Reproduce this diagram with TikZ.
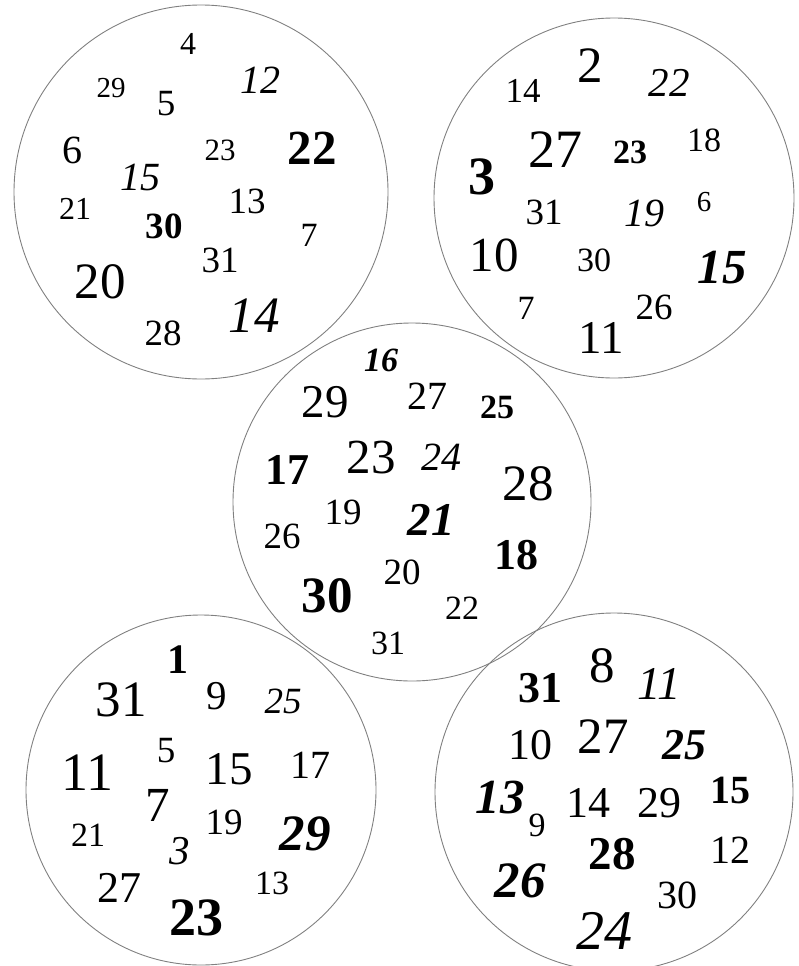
\documentclass[tikz,border=0pt]{standalone}
\usepackage{fontspec}
\setmainfont{Liberation Serif}
\usetikzlibrary{shapes.geometric}

\begin{document}
\begin{tikzpicture}[
  x=1pt,y=-1pt,
  ring/.style={draw=black!50,line width=0.9pt,circle,inner sep=0pt},
  num/.style={inner sep=0pt,font=\fontsize{#1}{#1}\selectfont},
  bnum/.style={inner sep=0pt,font=\fontsize{#1}{#1}\selectfont\bfseries},
  inum/.style={inner sep=0pt,font=\fontsize{#1}{#1}\selectfont\itshape},
  binum/.style={inner sep=0pt,font=\fontsize{#1}{#1}\selectfont\bfseries\itshape}
]
\useasboundingbox (0,0) rectangle (798,966);

% the five circles
\node[ring,minimum size=374pt] (c1) at (201,192) {};
\node[ring,minimum size=360pt] (c2) at (614,198) {};
\node[ring,minimum size=358pt] (c3) at (412,502) {};
\node[ring,minimum size=350pt] (c4) at (201,790) {};
\node[ring,minimum size=358pt] (c5) at (614,792) {};

% top left
\node[num=32]   (a4)  at (188,44)  {4};
\node[num=29]   (a29) at (111,88)  {29};
\node[num=37]   (a5)  at (166,104) {5};
\node[inum=40]  (a12) at (260,80)  {12};
\node[num=40]   (a6)  at (72,150)  {6};
\node[num=31]   (a23) at (220,150) {23};
\node[bnum=49]  (a22) at (312,148) {22};
\node[inum=40]  (a15) at (140,177) {15};
\node[num=32]   (a21) at (75,209)  {21};
\node[num=37]   (a13) at (247,201) {13};
\node[bnum=37]  (a30) at (164,226) {30};
\node[num=34]   (a7)  at (309,235) {7};
\node[num=37]   (a31) at (220,260) {31};
\node[num=51]   (a20) at (100,282) {20};
\node[num=37]   (a28) at (163,333) {28};
\node[inum=51]  (a14) at (254,316) {14};

% top right
\node[num=35]   (b14) at (523,91)  {14};
\node[num=51]   (b2)  at (590,66)  {2};
\node[inum=41]  (b22) at (669,83)  {22};
\node[num=54]   (b27) at (555,150) {27};
\node[bnum=34]  (b23) at (630,152) {23};
\node[num=34]   (b18) at (704,140) {18};
\node[bnum=54]  (b3)  at (482,177) {3};
\node[num=37]   (b31) at (544,212) {31};
\node[inum=40]  (b19) at (644,213) {19};
\node[num=29]   (b6)  at (704,202) {6};
\node[num=49]   (b10) at (494,255) {10};
\node[num=34]   (b30) at (594,260) {30};
\node[binum=49] (b15) at (722,268) {15};
\node[num=34]   (b7)  at (526,308) {7};
\node[num=37]   (b26) at (654,307) {26};
\node[num=47]   (b11) at (601,338) {11};

% middle
\node[binum=34] (m16) at (381,360) {16};
\node[num=47]   (m29) at (325,402) {29};
\node[num=40]   (m27) at (427,396) {27};
\node[bnum=34]  (m25) at (497,407) {25};
\node[bnum=44]  (m17) at (287,470) {17};
\node[num=49]   (m23) at (371,458) {23};
\node[inum=40]  (m24) at (441,457) {24};
\node[num=51]   (m28) at (528,484) {28};
\node[num=37]   (m19) at (343,512) {19};
\node[num=37]   (m26) at (282,536) {26};
\node[binum=47] (m21) at (431,520) {21};
\node[bnum=44]  (m18) at (516,555) {18};
\node[num=37]   (m20) at (402,572) {20};
\node[bnum=51]  (m30) at (327,596) {30};
\node[num=34]   (m22) at (462,608) {22};
\node[num=34]   (m31) at (388,643) {31};

% bottom left
\node[bnum=42]  (d1)  at (178,660) {1};
\node[num=51]   (d31) at (121,700) {31};
\node[num=41]   (d9)  at (217,696) {9};
\node[inum=37]  (d25) at (283,701) {25};
\node[num=37]   (d5)  at (166,751) {5};
\node[num=54]   (d11) at (87,773)  {11};
\node[num=47]   (d15) at (229,769) {15};
\node[num=40]   (d17) at (310,765) {17};
\node[num=49]   (d7)  at (158,805) {7};
\node[num=37]   (d19) at (224,822) {19};
\node[binum=51] (d29) at (305,834) {29};
\node[num=34]   (d21) at (88,835)  {21};
\node[inum=41]  (d3)  at (180,851) {3};
\node[num=44]   (d27) at (119,888) {27};
\node[num=34]   (d13) at (272,883) {13};
\node[bnum=54]  (d23) at (196,918) {23};

% bottom right
\node[bnum=44]  (e31) at (540,688) {31};
\node[num=51]   (e8)  at (602,666) {8};
\node[inum=47]  (e11) at (659,684) {11};
\node[num=44]   (e10) at (530,745) {10};
\node[num=51]   (e27) at (603,737) {27};
\node[binum=44] (e25) at (684,745) {25};
\node[binum=49] (e13) at (500,798) {13};
\node[num=34]   (e9)  at (537,825) {9};
\node[num=44]   (e14) at (588,803) {14};
\node[num=44]   (e29) at (659,803) {29};
\node[bnum=40]  (e15) at (730,790) {15};
\node[bnum=47]  (e28) at (612,854) {28};
\node[num=40]   (e12) at (730,850) {12};
\node[binum=51] (e26) at (520,881) {26};
\node[num=40]   (e30) at (677,895) {30};
\node[inum=56]  (e24) at (604,931) {24};
\end{tikzpicture}
\end{document}
